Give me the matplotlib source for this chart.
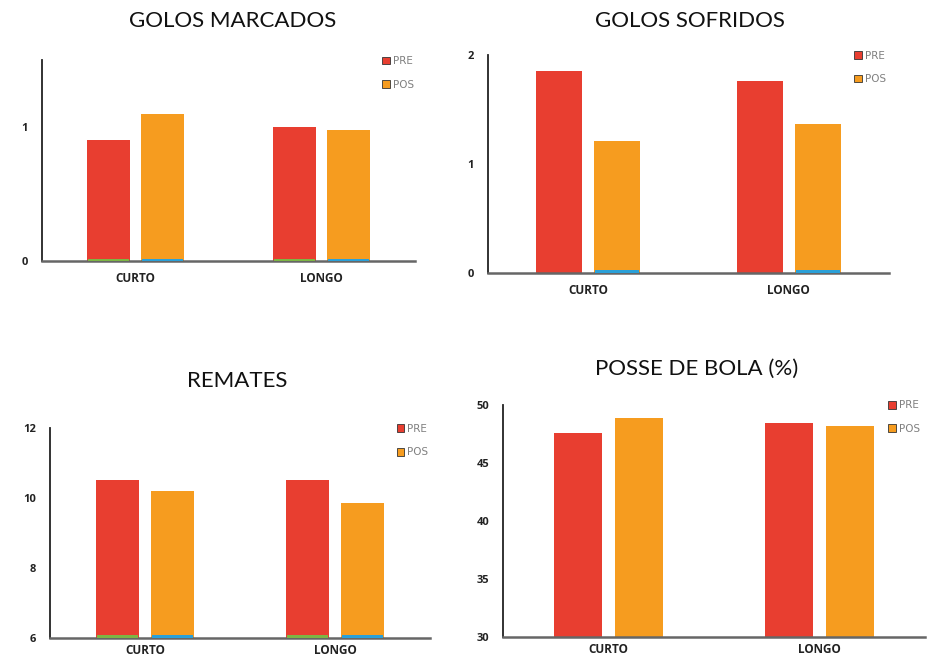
import numpy as np
import matplotlib.pyplot as plt
from matplotlib.patches import Patch

# jogos curtos vs longos, antes e depois
categorias = ['CURTO', 'LONGO']
series = ['PRE', 'POS']

golos_marcados_pre = [0.90, 1.00]
golos_marcados_pos = [1.10, 0.98]
golos_sofridos_pre = [1.85, 1.76]
golos_sofridos_pos = [1.21, 1.37]
remates_pre = [10.52, 10.52]
remates_pos = [10.20, 9.86]
posse_pre = [47.6, 48.45]
posse_pos = [48.9, 48.2]

cor_pre = '#E83E30'
cor_pos = '#F69C1F'
cor_base_pre = '#7DB544'
cor_base_pos = '#2AA0D8'

fig = plt.figure(figsize=(9.4, 6.6), dpi=100)
fig.patch.set_facecolor('white')


def painel(rect, pre, pos, ylim, yticks, titulo, titulo_xy, faixas=(True, True), xpad=8):
    ax = fig.add_axes(rect)
    x = np.arange(len(categorias))
    w = 0.23
    d = 0.145
    ax.bar(x - d, np.array(pre) - ylim[0], w, bottom=ylim[0], color=cor_pre, zorder=2)
    ax.bar(x + d, np.array(pos) - ylim[0], w, bottom=ylim[0], color=cor_pos, zorder=2)
    # faixa fina no fundo das barras
    h = (ylim[1] - ylim[0]) * 0.012
    if faixas[0]:
        ax.bar(x - d, h, w * 0.95, bottom=ylim[0], color=cor_base_pre, zorder=3)
    if faixas[1]:
        ax.bar(x + d, h, w * 0.95, bottom=ylim[0], color=cor_base_pos, zorder=3)
    ax.set_xlim(-0.5, 1.5)
    ax.set_ylim(*ylim)
    ax.set_yticks(yticks)
    ax.set_yticklabels([str(t) for t in yticks], fontsize=8, fontweight='bold',
                       color='#222222', family='Open Sans')
    ax.set_xticks(x)
    ax.set_xticklabels(categorias, fontsize=8.5, fontweight='bold', color='#222222',
                       family='Open Sans')
    ax.tick_params(axis='both', length=0)
    ax.tick_params(axis='y', pad=10)
    ax.tick_params(axis='x', pad=xpad)
    for s in ['top', 'right']:
        ax.spines[s].set_visible(False)
    ax.spines['left'].set_color('#222222')
    ax.spines['left'].set_linewidth(1.3)
    ax.spines['bottom'].set_color('#666666')
    ax.spines['bottom'].set_linewidth(1.8)
    handles = [Patch(facecolor=cor_pre, edgecolor='#333333', linewidth=0.6),
               Patch(facecolor=cor_pos, edgecolor='#333333', linewidth=0.6)]
    leg = ax.legend(handles, series, loc='upper left', bbox_to_anchor=(0.912, 1.02),
                    frameon=False, fontsize=7.5, handlelength=0.75, handleheight=0.75,
                    handletextpad=0.3, labelspacing=1.3, borderpad=0, borderaxespad=0)
    for t in leg.get_texts():
        t.set_color('#808080')
    fig.text(titulo_xy[0] / 940, 1 - titulo_xy[1] / 660, titulo, ha='center', va='center',
             fontsize=16, color='#111111', family='Lato')
    return ax


painel([42 / 940, 1 - 261 / 660, 373 / 940, 201 / 660],
       golos_marcados_pre, golos_marcados_pos, (0, 1.5), [0, 1],
       'GOLOS MARCADOS', (233, 21))
painel([488 / 940, 1 - 273 / 660, 401 / 940, 218 / 660],
       golos_sofridos_pre, golos_sofridos_pos, (0, 2), [0, 1, 2],
       'GOLOS SOFRIDOS', (690, 21), faixas=(False, True))
painel([50 / 940, 1 - 638 / 660, 380 / 940, 210 / 660],
       remates_pre, remates_pos, (6, 12), [6, 8, 10, 12],
       'REMATES', (237, 381), xpad=4)
painel([503 / 940, 1 - 637 / 660, 422 / 940, 232 / 660],
       posse_pre, posse_pos, (30, 50), [30, 35, 40, 45, 50],
       'POSSE DE BOLA (%)', (697, 369), faixas=(False, False), xpad=4)

fig.savefig('out.png', dpi=100, facecolor='white')
